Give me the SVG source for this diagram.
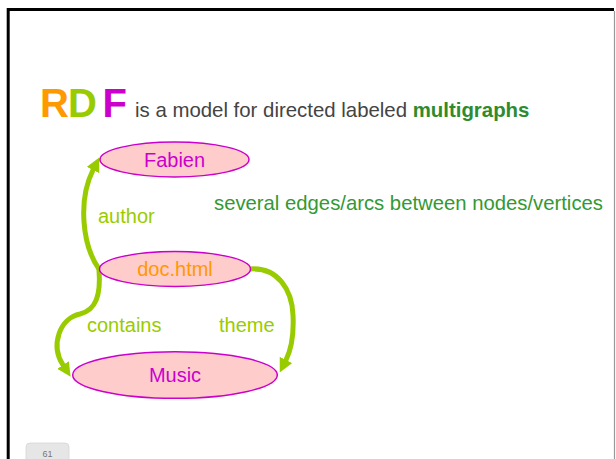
<svg xmlns="http://www.w3.org/2000/svg" width="616" height="459" viewBox="0 0 616 459">
  <style>
    text { font-family: "Liberation Sans", Arial, sans-serif; }
    .node { fill: #FFCCCC; stroke: #CC00CC; stroke-width: 1.5; }
    .lbl { font-size: 20px; text-anchor: middle; }
    .edge { fill: none; stroke: #99CC00; stroke-width: 5; stroke-linecap: round; }
    .elbl { font-size: 20px; fill: #99CC00; }
  </style>
  <defs>
    <marker id="arrow" viewBox="0 0 14 14" refX="0" refY="7" markerWidth="14" markerHeight="14" markerUnits="userSpaceOnUse" orient="auto">
      <path d="M0,0 L14,7 L0,14 z" fill="#99CC00"/>
    </marker>
  </defs>

  <rect width="616" height="459" fill="#ffffff"/>
  <!-- slide frame -->
  <path d="M8.2 459 V9.5 H614" fill="none" stroke="#000000" stroke-width="3"/>
  <line x1="614.5" y1="11" x2="614.5" y2="459" stroke="#999999" stroke-width="1.2"/>

  <!-- heading -->
  <g id="title">
    <text y="117" font-size="40" font-weight="bold">
      <tspan x="40" fill="#FF9900">R</tspan><tspan x="68" fill="#99CC00">D</tspan><tspan x="102.5" fill="#CC00CC">F</tspan>
    </text>
    <text x="135" y="117" font-size="20.4" fill="#444444">is a model for directed labeled <tspan font-weight="bold" fill="#2E8B2E">multigraphs</tspan></text>
  </g>

  <text id="note" x="214" y="210" font-size="20.3" fill="#339933">several edges/arcs between nodes/vertices</text>

  <!-- connectors -->
  <g id="edges">
    <path class="edge" d="M99 269 C82 245, 78 200, 93 170" marker-end="url(#arrow)"/>
    <path class="edge" d="M99 270 C101 295, 96 310, 80 314 C60 318, 50 345, 63 365" marker-end="url(#arrow)"/>
    <path class="edge" d="M250 269 C278 267, 292 290, 293 315 C294 335, 292 348, 286 360" marker-end="url(#arrow)"/>
    <text class="elbl" x="98" y="223">author</text>
    <text class="elbl" x="87" y="332">contains</text>
    <text class="elbl" x="219" y="332">theme</text>
  </g>

  <g id="fabien">
    <ellipse class="node" cx="174.5" cy="159.5" rx="74.5" ry="17.5"/>
    <text class="lbl" x="174.5" y="167" fill="#CC00CC">Fabien</text>
  </g>
  <g id="doc">
    <ellipse class="node" cx="175" cy="269" rx="75.5" ry="17.5"/>
    <text class="lbl" x="175" y="276" fill="#FF9900">doc.html</text>
  </g>
  <g id="music">
    <ellipse class="node" cx="175" cy="375" rx="102.3" ry="23.3"/>
    <text class="lbl" x="175" y="382" fill="#CC00CC">Music</text>
  </g>

  <!-- page number -->
  <g id="pagenum">
    <rect x="26" y="443" width="43" height="24" rx="4" fill="#E6E6E6" stroke="#D6D6D6" stroke-width="0.8"/>
    <text x="47.5" y="456.5" font-size="9" fill="#777777" text-anchor="middle">61</text>
  </g>
</svg>
